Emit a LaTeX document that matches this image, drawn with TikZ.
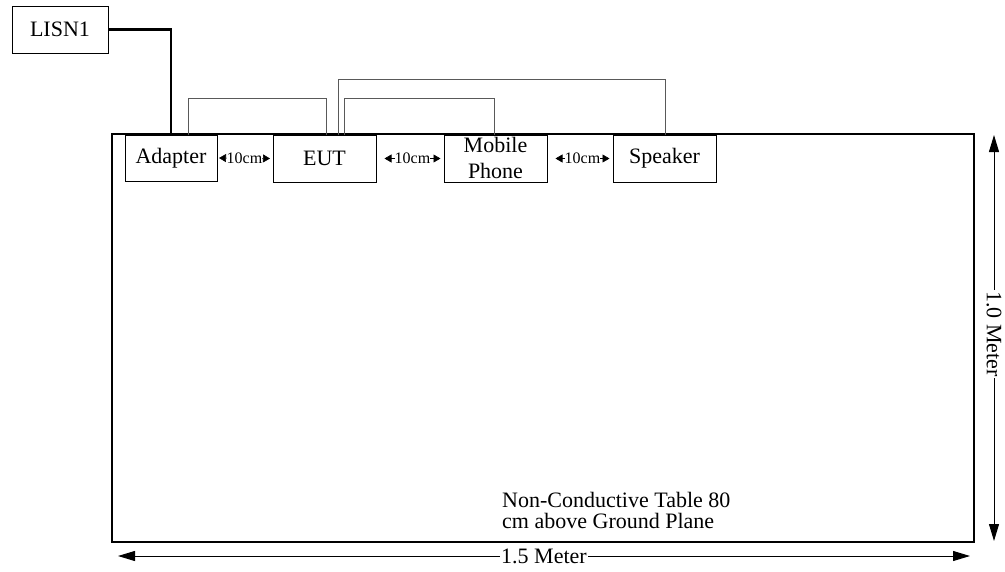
\documentclass[tikz,border=0pt]{standalone}
\usepackage{fontspec}
\setmainfont{Liberation Serif}
\usetikzlibrary{arrows.meta,calc}
\begin{document}
\begin{tikzpicture}[x=1pt,y=-1pt,
  every node/.style={font=\fontsize{22}{26}\selectfont},
  box/.style={draw,line width=1pt,fill=white,inner sep=0pt,minimum height=47pt},
  cable/.style={draw=black!65,line width=0.9pt},
  power/.style={line width=2.2pt},
  gap/.style={line width=0.6pt,{Triangle[length=7pt,width=8pt]}-{Triangle[length=7pt,width=8pt]}},
  gaplbl/.style={fill=white,inner sep=0pt,font=\fontsize{16}{18}\selectfont},
  dim/.style={line width=1pt,{Triangle[length=17pt,width=10pt]}-{Triangle[length=17pt,width=10pt]}},
  dimlbl/.style={fill=white,inner sep=1pt}]
\useasboundingbox (0,0) rectangle (1005,571);
% table
\node[draw,line width=2.2pt,minimum width=862pt,minimum height=408pt,inner sep=0pt] (table) at (543,338) {};
% devices
\node[box,minimum width=96pt] (lisn) at (60,29.5) {LISN1};
\node[box,minimum width=92pt,minimum height=46pt] (ad) at (171,158) {Adapter};
\node[box,minimum width=103pt] (eut) at (324.5,158.5) {EUT};
\node[box,minimum width=103pt] (mob) at (495.5,158.5) {};
\node[inner sep=0pt,align=center] (mobtxt) at (495.5,157.5) {Mobile\\Phone};
\node[box,minimum width=103pt] (spk) at (664.5,158.5) {Speaker};
% power cable
\draw[power] (lisn.east) -| (ad.north);
% cables
\draw[cable] ([xshift=17pt]ad.north) -- ++(0,-36) -| ([xshift=1.5pt]eut.north);
\draw[cable] ([xshift=13.5pt]eut.north) -- ++(0,-55) -| ([xshift=0.5pt]spk.north);
\draw[cable] ([xshift=19.5pt]eut.north) -- ++(0,-36) -| ([xshift=-1.5pt]mob.north);
% 10cm gaps
\draw[gap] ([xshift=1.5pt]ad.east) -- node[gaplbl] (g1) {10cm} ([xshift=-2.5pt]eut.west);
\draw[gap] ([xshift=8pt]eut.east) -- node[gaplbl] (g2) {10cm} ([xshift=-3pt]mob.west);
\draw[gap] ([xshift=8pt]mob.east) -- node[gaplbl] (g3) {10cm} ([xshift=-3pt]spk.west);
% table text
\node[anchor=base west,align=left,inner sep=0pt,font=\fontsize{22}{21.5}\selectfont] (ttxt) at (502,528.5) {Non-Conductive Table 80\\cm above Ground Plane};
% dimensions
\coordinate (vt) at (994,135);
\coordinate (vb) at (994,541);
\draw[dim] (vt) -- node[dimlbl,rotate=-90,pos=0.49] (v) {1.0 Meter} (vb);
\coordinate (hl) at (118,556);
\coordinate (hr) at (970,556);
\draw[dim] (hl) -- node[dimlbl] (h) {1.5 Meter} (hr);
\end{tikzpicture}
\end{document}
